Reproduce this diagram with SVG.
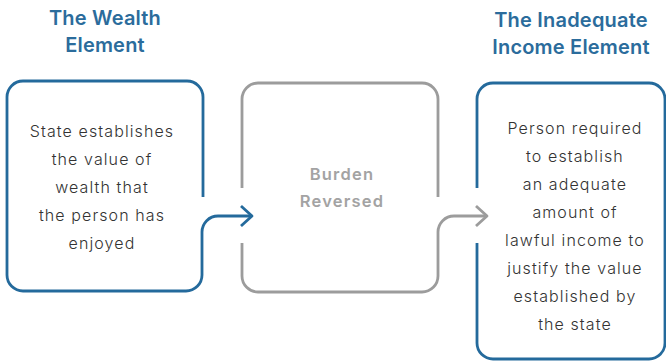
<svg xmlns="http://www.w3.org/2000/svg" width="666" height="361" viewBox="0 0 666 361">
<style>
.blue{fill:none;stroke:#246a9c;stroke-width:2.8;stroke-linecap:butt;stroke-linejoin:round}
.gray{fill:none;stroke:#9c9c9c;stroke-width:2.8;stroke-linecap:butt;stroke-linejoin:round}
.title{font-family:Inter,"Liberation Sans",sans-serif;font-size:20px;font-weight:600;fill:#2b6c9c;text-anchor:middle;letter-spacing:0.2px}
.body{font-family:Inter,"Liberation Sans",sans-serif;font-size:16px;font-weight:300;fill:#333333;text-anchor:middle;letter-spacing:1.1px}
.mid{font-family:Inter,"Liberation Sans",sans-serif;font-size:16.5px;font-weight:600;fill:#a3a3a3;text-anchor:middle;letter-spacing:1.2px}
</style>
<rect width="666" height="361" fill="#ffffff"/>
<g id="title-wealth">
<text class="title" x="105" y="25">The Wealth</text>
<text class="title" x="105" y="52">Element</text>
</g>
<g id="title-income">
<text class="title" x="571" y="27">The Inadequate</text>
<text class="title" x="571" y="54">Income Element</text>
</g>
<g id="node-wealth">
<path class="blue" d="M203,197 V97 A16,16 0 0 0 187,81 H23 A16,16 0 0 0 7,97 V275 A16,16 0 0 0 23,291 H186 A16,16 0 0 0 202,275"/>
<text class="body" x="102" y="137">State establishes</text>
<text class="body" x="102" y="165">the value of</text>
<text class="body" x="102" y="193">wealth that</text>
<text class="body" x="102" y="221">the person has</text>
<text class="body" x="102" y="249">enjoyed</text>
</g>
<g id="node-burden">
<path class="gray" d="M242,188 V99 A16,16 0 0 1 258,83 H422 A16,16 0 0 1 438,99 V197"/>
<path class="gray" d="M242,243 V276 A16,16 0 0 0 258,292 H422 A16,16 0 0 0 438,276"/>
<text class="mid" x="342" y="180">Burden</text>
<text class="mid" x="342" y="207">Reversed</text>
</g>
<g id="node-income">
<path class="blue" d="M477,188 V99 A16,16 0 0 1 493,83 H649 A16,16 0 0 1 665,99 V343 A16,16 0 0 1 649,359 H493 A16,16 0 0 1 477,343 V243"/>
<text class="body" x="575" y="134">Person required</text>
<text class="body" x="575" y="162">to establish</text>
<text class="body" x="575" y="190">an adequate</text>
<text class="body" x="575" y="218">amount of</text>
<text class="body" x="575" y="246">lawful income to</text>
<text class="body" x="575" y="274">justify the value</text>
<text class="body" x="575" y="302">established by</text>
<text class="body" x="575" y="330">the state</text>
</g>
<g id="connectors">
<path class="blue" d="M202,275 V232 A16,16 0 0 1 218,216 H252"/>
<path class="blue" d="M241,206 L252,216 L241,226"/>
<path class="gray" d="M438,276 V232 A16,16 0 0 1 454,216 H487"/>
<path class="gray" d="M476,206 L487,216 L476,226"/>
</g>
</svg>
